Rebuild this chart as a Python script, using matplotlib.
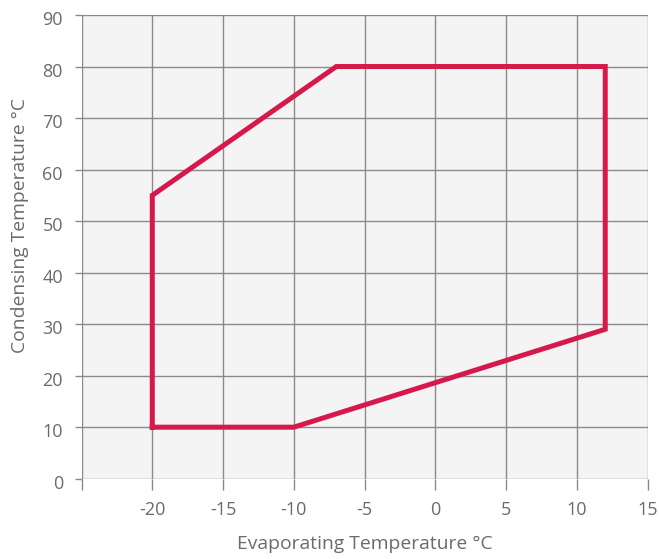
import matplotlib.pyplot as plt
import matplotlib.transforms as mtransforms

# operating envelope corners (evaporating, condensing)
evap_temp = [-20, -10, 12, 12, -7, -20, -20]
cond_temp = [10, 10, 29, 80, 80, 55, 10]

x_ticks = [-25, -20, -15, -10, -5, 0, 5, 10, 15]
x_labels = ['', '-20', '-15', '-10', '-5', '0', '5', '10', '15']
y_ticks = [0, 10, 20, 30, 40, 50, 60, 70, 80, 90]

plt.rcParams['font.family'] = ['Open Sans', 'DejaVu Sans']
grey = '#6b6b6b'
grid_c = '#8a8a8a'

fig = plt.figure(figsize=(6.59, 5.59), dpi=100)
ax = fig.add_axes([81.5/659, 1 - 478.7/559, (647.7-81.5)/659, (478.7-15)/559])
ax.set_facecolor('#f4f4f4')

ax.plot(evap_temp, cond_temp, color='#d6184b', linewidth=3.6,
        solid_joinstyle='miter', zorder=3)

ax.set_xlim(-25, 15)
ax.set_ylim(0, 90)
ax.set_xticks(x_ticks)
ax.set_xticklabels(x_labels)
ax.set_yticks(y_ticks)
ax.grid(True, color=grid_c, linewidth=1.0)
ax.set_axisbelow(True)
for s in ax.spines.values():
    s.set_visible(False)

ax.tick_params(axis='x', length=7.9, width=1.0, color=grid_c, pad=8.5,
               labelsize=13, labelcolor=grey)
ax.tick_params(axis='y', length=5.4, width=1.0, color=grid_c, pad=8,
               labelsize=13, labelcolor=grey)

# y labels sit a touch below their gridlines in the original
shift = mtransforms.ScaledTranslation(0, -0.03, fig.dpi_scale_trans)
for lbl in ax.get_yticklabels():
    lbl.set_transform(lbl.get_transform() + shift)

ax.set_xlabel('Evaporating Temperature °C', fontsize=13.9, color=grey)
ax.set_ylabel('Condensing Temperature °C', fontsize=13.9, color=grey)
ax.xaxis.set_label_coords(0.5, -0.121)
ax.yaxis.set_label_coords(-0.092, 0.546)

fig.savefig('out.png', dpi=100)
